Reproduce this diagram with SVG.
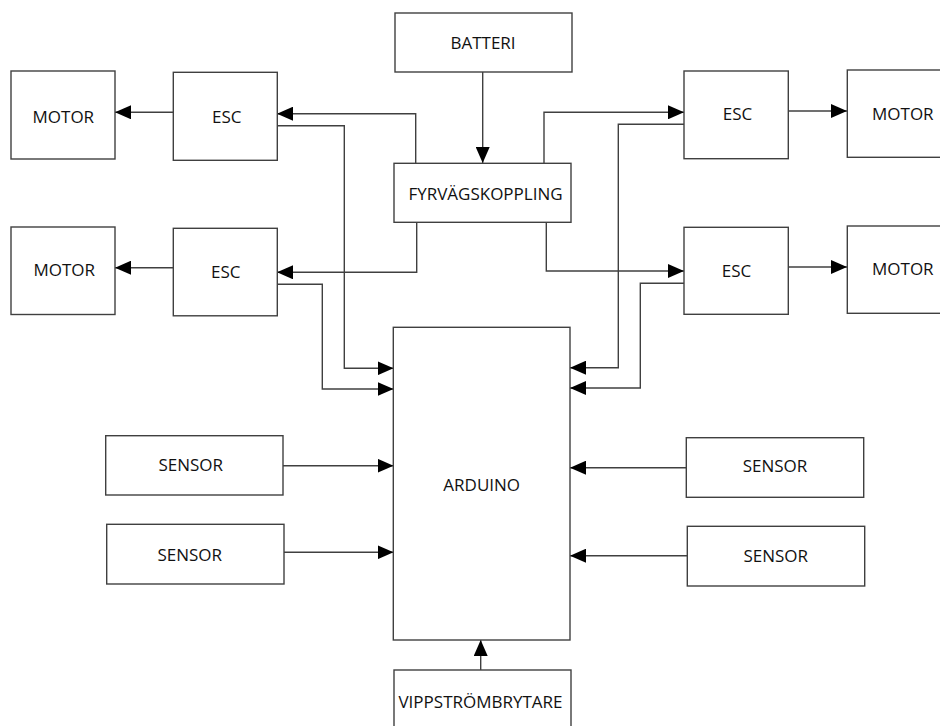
<svg xmlns="http://www.w3.org/2000/svg" width="940" height="726" viewBox="0 0 940 726">
<defs>
<style>
.box{fill:#fff;stroke:#404040;stroke-width:1.4}
.lbl{font-family:"Open Sans","Liberation Sans",sans-serif;font-size:17px;fill:#111;text-anchor:middle}
.con{fill:none;stroke:#404040;stroke-width:1.4}
</style>
<marker id="ah" markerUnits="userSpaceOnUse" markerWidth="16" markerHeight="14" refX="16" refY="7" orient="auto">
<path d="M0,0 L16,7 L0,14 z" fill="#000"/>
</marker>
</defs>
<rect width="940" height="726" fill="#fff"/>
<g id="connectors" class="con" marker-end="url(#ah)">
<path d="M482.7,72 V163"/>
<path d="M415.7,163 V113.7 H277"/>
<path d="M416.7,222 V272.3 H277"/>
<path d="M544,163 V112.3 H684"/>
<path d="M546.3,222 V271 H684"/>
<path d="M173,112.3 H115"/>
<path d="M173,267.7 H115"/>
<path d="M788,111 H847"/>
<path d="M788,267 H847"/>
<path d="M277,125.7 H344.3 V368.3 H393.5"/>
<path d="M277,284.3 H322.3 V389 H393.5"/>
<path d="M684,124.3 H618.3 V367.7 H570"/>
<path d="M684,283.3 H640.3 V388 H570"/>
<path d="M283,465.7 H393.5"/>
<path d="M284,552.3 H393.5"/>
<path d="M686.3,467.7 H570"/>
<path d="M687.3,555.7 H570"/>
<path d="M480.7,670 V640"/>
</g>
<g id="batteri"><rect class="box" x="395" y="13" width="177" height="59"/><text class="lbl" x="483" y="48.7">BATTERI</text></g>
<g id="fyrvagskoppling"><rect class="box" x="394" y="163.3" width="177" height="59"/><text class="lbl" x="485.5" y="200">FYRVÄGSKOPPLING</text></g>
<g id="motor1"><rect class="box" x="11" y="71" width="104" height="88"/><text class="lbl" x="63.3" y="122.7">MOTOR</text></g>
<g id="esc1"><rect class="box" x="173.3" y="72.3" width="104" height="88"/><text class="lbl" x="226.8" y="122.7">ESC</text></g>
<g id="motor2"><rect class="box" x="11" y="227" width="104" height="87.5"/><text class="lbl" x="64.2" y="276">MOTOR</text></g>
<g id="esc2"><rect class="box" x="173.3" y="228.3" width="104" height="87.5"/><text class="lbl" x="225.8" y="277.7">ESC</text></g>
<g id="esc3"><rect class="box" x="684" y="71" width="104.3" height="87.7"/><text class="lbl" x="737.5" y="120">ESC</text></g>
<g id="motor3"><rect class="box" x="847.3" y="70" width="104" height="87.3"/><text class="lbl" x="902.8" y="120">MOTOR</text></g>
<g id="esc4"><rect class="box" x="684" y="227.3" width="104.3" height="87"/><text class="lbl" x="736.5" y="276.7">ESC</text></g>
<g id="motor4"><rect class="box" x="847.3" y="226" width="104" height="87.3"/><text class="lbl" x="902.8" y="275">MOTOR</text></g>
<g id="arduino"><rect class="box" x="393.3" y="327.3" width="176.7" height="312.7"/><text class="lbl" x="481.7" y="490.7">ARDUINO</text></g>
<g id="sensor-l1"><rect class="box" x="105.7" y="435.7" width="177.3" height="59.3"/><text class="lbl" x="190.8" y="470.7">SENSOR</text></g>
<g id="sensor-l2"><rect class="box" x="106.7" y="524.3" width="177.3" height="59.7"/><text class="lbl" x="189.7" y="560.7">SENSOR</text></g>
<g id="sensor-r1"><rect class="box" x="686.3" y="437.7" width="177.4" height="59.6"/><text class="lbl" x="775" y="472.3">SENSOR</text></g>
<g id="sensor-r2"><rect class="box" x="687.3" y="526.3" width="177.4" height="59.7"/><text class="lbl" x="775.8" y="562.3">SENSOR</text></g>
<g id="vippstrombrytare"><rect class="box" x="394" y="670" width="177" height="60"/><text class="lbl" x="480.5" y="707.7">VIPPSTRÖMBRYTARE</text></g>
</svg>
